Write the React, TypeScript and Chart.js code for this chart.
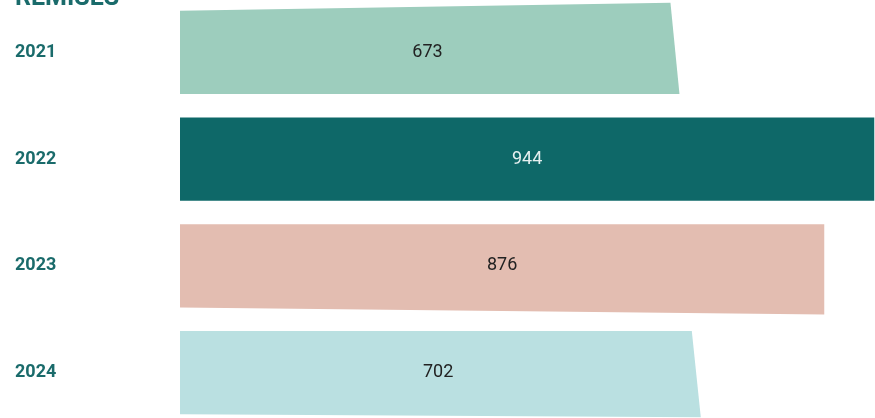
import React, { useEffect, useRef } from "react";
import { Chart, registerables } from "chart.js";

Chart.register(...registerables);

const title = "REMISES";
const years = ["2021", "2022", "2023", "2024"];
const remises = [673, 944, 876, 702];
const barColors = ["#9dcdbd", "#0e6868", "#e3bdb1", "#bae0e1"];
const valueColors = ["#222222", "#e6f0f0", "#222222", "#222222"];
// shape tweaks per bar (pixels): top-right rise, bottom-right drop, right-edge lean
const topRise = [8, 0, 0, 0];
const bottomDrop = [0, 0, 7, 3];
const rightLean = [9, 0, 0, 9];

const TEAL = "#1a6b6b";
const FONT = "Roboto, 'DejaVu Sans', sans-serif";

const shapePlugin = {
  id: "shapedBars",
  beforeDatasetDraw(chart: any, args: any) {
    const meta = chart.getDatasetMeta(args.index);
    const ctx = chart.ctx;
    ctx.save();
    meta.data.forEach((el: any, i: number) => {
      const { x, y, base, height } = el.getProps(["x", "y", "base", "height"], true);
      const top = y - height / 2;
      const bottom = y + height / 2;
      const lean = rightLean[i] / 2;
      ctx.beginPath();
      ctx.moveTo(base, top);
      ctx.lineTo(x - lean, top - topRise[i]);
      ctx.lineTo(x + lean, bottom + bottomDrop[i]);
      ctx.lineTo(base, bottom);
      ctx.closePath();
      ctx.fillStyle = barColors[i];
      ctx.fill();
      ctx.font = `400 18px ${FONT}`;
      ctx.fillStyle = valueColors[i];
      ctx.textAlign = "center";
      ctx.textBaseline = "middle";
      ctx.fillText(String(remises[i]), (x + base) / 2, y);
    });
    ctx.restore();
    return false;
  },
  afterDraw(chart: any) {
    const ctx = chart.ctx;
    ctx.save();
    ctx.font = `700 25px ${FONT}`;
    ctx.fillStyle = TEAL;
    ctx.textAlign = "left";
    ctx.textBaseline = "alphabetic";
    ctx.fillText(title, 15, 6);
    ctx.restore();
  },
};

export default function App() {
  const ref = useRef<HTMLCanvasElement>(null);
  useEffect(() => {
    if (!ref.current) return;
    const chart = new Chart(ref.current, {
      type: "bar",
      data: {
        labels: years,
        datasets: [
          {
            data: remises,
            backgroundColor: barColors,
            categoryPercentage: 1,
            barPercentage: 0.78,
          },
        ],
      },
      options: {
        indexAxis: "y",
        animation: false,
        responsive: false,
        devicePixelRatio: 1,
        layout: { autoPadding: false, padding: { left: 15, right: 0, top: 0, bottom: 0 } },
        plugins: {
          legend: { display: false },
          tooltip: { enabled: false },
          title: { display: false },
        },
        scales: {
          x: { display: false, min: 0, max: 945 },
          y: {
            grid: { display: false },
            border: { display: false },
            afterFit: (s: any) => {
              s.width = 165;
              s.paddingTop = 0;
              s.paddingBottom = 0;
            },
            ticks: {
              crossAlign: "far",
              color: TEAL,
              font: { family: FONT, size: 18, weight: "bold" },
            },
          },
        },
      },
      plugins: [shapePlugin],
    });
    return () => chart.destroy();
  }, []);
  return (
    <div
      style={{
        position: "fixed",
        left: 0,
        top: -1,
        width: 875,
        height: 427,
        background: "#ffffff",
      }}
    >
      <canvas ref={ref} width={875} height={427} />
    </div>
  );
}
